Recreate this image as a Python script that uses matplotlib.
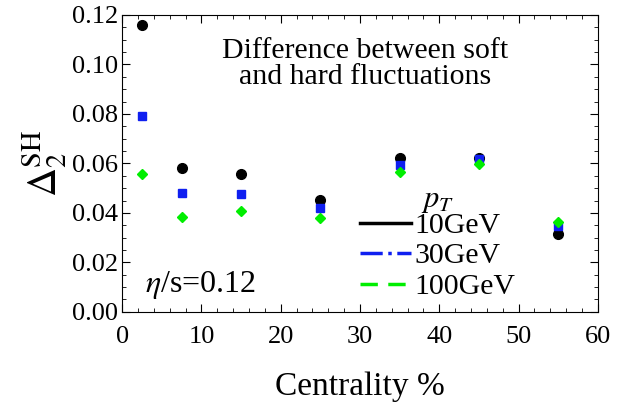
import numpy as np
from matplotlib import pyplot as plt
from matplotlib.lines import Line2D
from matplotlib.ticker import MultipleLocator

plt.rcParams['font.family'] = ['Liberation Serif', 'DejaVu Serif']
plt.rcParams['mathtext.fontset'] = 'stix'

centrality = [2.5, 7.5, 15, 25, 35, 45, 55]
delta_10 = [0.1158, 0.0580, 0.0556, 0.0453, 0.0622, 0.0620, 0.0314]
delta_30 = [0.0790, 0.0479, 0.0475, 0.0419, 0.0593, 0.0617, 0.0346]
delta_100 = [0.0559, 0.0385, 0.0409, 0.0381, 0.0567, 0.0599, 0.0362]
labels = ['10GeV', '30GeV', '100GeV']

if __name__ == '__main__':
    fig = plt.figure(figsize=(6.17, 4.05), dpi=100)
    ax = fig.add_axes([0.198, 0.230, 0.771, 0.733])

    ax.plot(centrality, delta_10, 'o', color='black', markersize=7, zorder=3)
    ax.plot(centrality, delta_30, 's', color='#0f1ff0', markersize=6, zorder=3)
    ax.plot(centrality, delta_100, 'D', color='#00ee00', markersize=5.5, zorder=4)

    ax.set_xlim(0, 60)
    ax.set_ylim(0, 0.12)
    ax.xaxis.set_major_locator(MultipleLocator(10))
    ax.xaxis.set_minor_locator(MultipleLocator(2))
    ax.yaxis.set_major_locator(MultipleLocator(0.02))
    ax.yaxis.set_minor_locator(MultipleLocator(0.005))
    ax.yaxis.set_major_formatter(lambda v, p: f'{v:.2f}')
    ax.tick_params(which='both', direction='in', top=True, right=True, labelsize=19)
    ax.tick_params(which='major', length=6)
    ax.tick_params(which='minor', length=3)
    ax.tick_params(axis='x', pad=10)
    ax.tick_params(axis='y', pad=3)

    ax.set_xlabel('Centrality %', fontsize=24, labelpad=17)
    ax.set_ylabel(r'$\Delta_2^{\mathrm{SH}}$', fontsize=29, labelpad=2)

    ax.text(0.51, 0.835, 'Difference between soft\nand hard fluctuations',
            transform=ax.transAxes, ha='center', va='center', fontsize=21.5, linespacing=1.0)
    ax.text(0.048, 0.067, r'$\eta$/s=0.12', transform=ax.transAxes, fontsize=23,
            va='baseline')

    handles = [Line2D([], [], color='black', lw=2.5, ls='-'),
               Line2D([], [], color='#0f1ff0', lw=2.5, ls='-.'),
               Line2D([], [], color='#00ee00', lw=2.5, ls=(0, (5, 3)))]
    leg = ax.legend(handles, labels, title=r'$p_T$', loc='lower left',
                    bbox_to_anchor=(0.5, 0.04), frameon=False, fontsize=21.5,
                    title_fontsize=22, handlelength=1.7, handletextpad=0.13,
                    labelspacing=0.12, borderpad=0, borderaxespad=0)
    leg._legend_box.align = 'center'
    leg._legend_box.sep = -2

    plt.savefig('out.png', dpi=100)
